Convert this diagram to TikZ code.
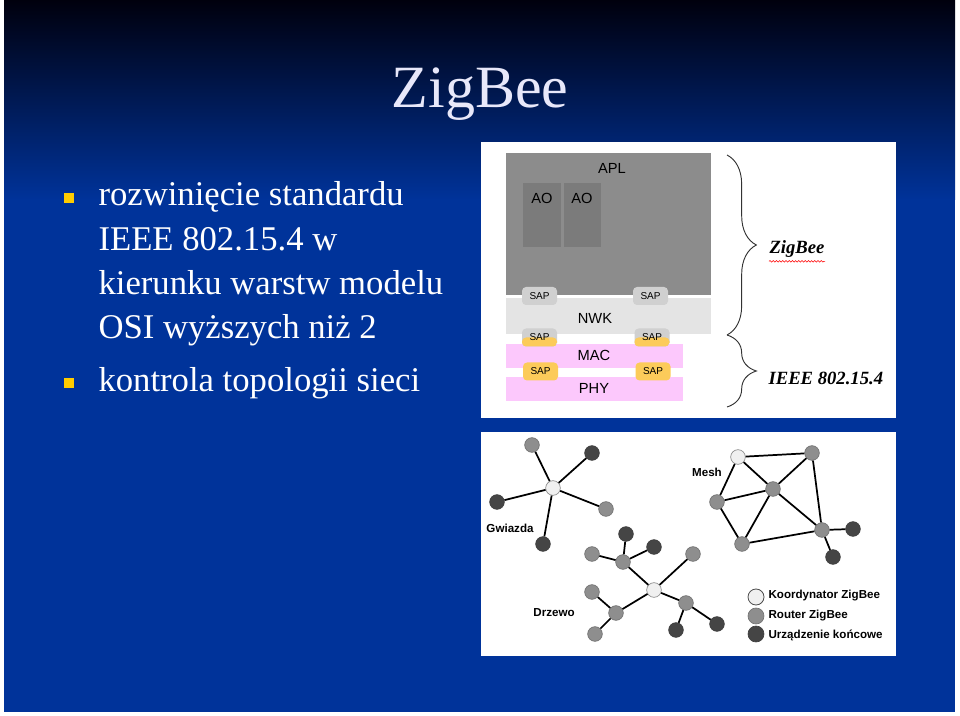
\documentclass[tikz,border=0pt]{standalone}
\usepackage{fontspec}
\setmainfont{Liberation Serif}
\setsansfont{Liberation Sans}
\usepackage{xcolor}
\usetikzlibrary{positioning, decorations.pathreplacing, decorations.pathmorphing}

\definecolor{slidetop}{HTML}{00000E}
\definecolor{slideblue}{HTML}{00339A}
\definecolor{titlecol}{HTML}{E8E8FA}
\definecolor{bulletcol}{HTML}{FFCC00}
\definecolor{aplgray}{HTML}{8C8C8C}
\definecolor{aogray}{HTML}{7B7B7B}
\definecolor{nwkgray}{HTML}{E4E4E4}
\definecolor{macpink}{HTML}{FCC8FC}
\definecolor{sapgray}{HTML}{D0D0D0}
\definecolor{sapyellow}{HTML}{FCCB5A}
\definecolor{coordfill}{HTML}{F0F0F0}
\definecolor{routerfill}{HTML}{8E8E8E}
\definecolor{endfill}{HTML}{454545}

\begin{document}
\begin{tikzpicture}[
            x=0.75pt, y=-0.75pt, line width=0.8pt,
            % ---- styles ----
            bullet/.style = {rectangle, fill=bulletcol, minimum size=7.5pt, inner sep=0pt},
            txtline/.style = {text=white, font=\fontsize{26}{33}\selectfont, anchor=base west, inner sep=0pt},
            stacklayer/.style = {rectangle, inner sep=0pt, anchor=north west},
            lbl/.style = {font=\sffamily\fontsize{11}{12}\selectfont, inner sep=0pt},
            sap/.style = {rectangle, rounded corners=3pt, minimum width=26.25pt, minimum height=13.5pt,
                          inner sep=0pt, font=\sffamily\fontsize{7.5}{8}\selectfont},
            sapmix/.style = {sap, fill=sapgray, path picture={
                          \fill[sapyellow] (path picture bounding box.west) rectangle (path picture bounding box.south east);}},
            zbrace/.style = {decorate, decoration={brace, amplitude=22pt}, draw=black!80, line width=0.7pt},
            stacktag/.style = {font=\bfseries\itshape\fontsize{14}{16}\selectfont, inner sep=0pt},
            coordnode/.style = {circle, draw=black!45, fill=coordfill, minimum size=11pt, inner sep=0pt, line width=0.5pt},
            router/.style = {coordnode, fill=routerfill, draw=black!55},
            enddev/.style = {coordnode, fill=endfill, draw=black!75},
            link/.style = {line width=1.3pt},
            tag/.style = {font=\sffamily\bfseries\fontsize{8.7}{10}\selectfont, inner sep=0pt}
        ]
        \useasboundingbox (0,0) rectangle (960,716);

        % ===================== tlo slajdu =====================
        \fill[white] (0,0) rectangle (960,716);
        \shade[top color=slidetop, bottom color=slideblue] (4,1) rectangle (955,200);
        \fill[slideblue] (4,199) rectangle (955,712);

        % tytul
        \node[text=titlecol, font=\fontsize{45}{48}\selectfont, anchor=base, inner sep=0pt] (title) at (480,108) {ZigBee};

        % ===================== punkty =====================
        \node[bullet] (b1) at (69,198) {};
        \node[txtline] (l1) at (98,206) {rozwinięcie standardu};
        \node[txtline] (l2) at (98,251) {IEEE 802.15.4 w};
        \node[txtline] (l3) at (98,295) {kierunku warstw modelu};
        \node[txtline] (l4) at (98,339) {OSI wyższych niż 2};
        \node[bullet] (b2) at (69,383) {};
        \node[txtline] (l5) at (98,392) {kontrola topologii sieci};

        % ===================== stos protokolow =====================
        \fill[white] (481,142) rectangle (896,418);

        \node[stacklayer, fill=aplgray, minimum width=153.75pt, minimum height=106.5pt] (apl) at (505,152) {};
        \node[lbl] (apltxt) at (612,168) {APL};
        \node[stacklayer, fill=aogray, minimum width=28.5pt, minimum height=48pt] (ao1) at (522,182) {};
        \node[stacklayer, fill=aogray, minimum width=28pt, minimum height=48pt] (ao2) at (563,182) {};
        \node[lbl] (ao1txt) at (542,198) {AO};
        \node[lbl] (ao2txt) at (582,198) {AO};

        \node[stacklayer, fill=nwkgray, minimum width=153.75pt, minimum height=27pt] (nwk) at (505,297) {};
        \node[lbl] (nwktxt) at (595,318) {NWK};
        \node[stacklayer, fill=macpink, minimum width=132.75pt, minimum height=18pt] (mac) at (505,343) {};
        \node[lbl] (mactxt) at (594,355) {MAC};
        \node[stacklayer, fill=macpink, minimum width=132.75pt, minimum height=18pt] (phy) at (505,376) {};
        \node[lbl] (phytxt) at (594,388) {PHY};

        % SAP
        \node[sap, fill=sapgray] (sap1) at (539.5,296) {SAP};
        \node[sap, fill=sapgray] (sap2) at (650.5,296) {SAP};
        \node[sapmix] (sap3) at (539.5,337.5) {SAP};
        \node[sapmix] (sap4) at (652,337.5) {SAP};
        \node[sap, fill=sapyellow] (sap5) at (540.5,371.5) {SAP};
        \node[sap, fill=sapyellow] (sap6) at (653,371.5) {SAP};

        % klamry
        \coordinate (brtop) at (727,155);
        \coordinate (brmid) at (727,335);
        \coordinate (brbot) at (727,407);
        \draw[zbrace] (brtop) -- (brmid);
        \draw[zbrace] (brmid) -- (brbot);
        \node[stacktag, anchor=west] (zbtag) at (769,249) {ZigBee};
        \draw[red, line width=0.4pt, decorate, decoration={snake, amplitude=0.6pt, segment length=2.4pt}]
            ([yshift=-2.5pt]zbtag.south west) -- ([yshift=-2.5pt]zbtag.south east);
        \node[stacktag, anchor=west] (ieeetag) at (768,378) {IEEE 802.15.4};

        % ===================== topologie =====================
        \fill[white] (481,432) rectangle (896,656);

        % ---- gwiazda ----
        \node[coordnode] (s0) at (553,488) {};
        \node[router] (s1) at (532,445) {};
        \node[enddev] (s2) at (592,453) {};
        \node[enddev] (s3) at (497,502) {};
        \node[router] (s4) at (606,509) {};
        \node[enddev] (s5) at (543,544) {};
        \node[tag] (gwiazda) at (510,528) {Gwiazda};
        \draw[link] (s0) -- (s1) (s0) -- (s2) (s0) -- (s3) (s0) -- (s4) (s0) -- (s5);

        % ---- drzewo ----
        \node[coordnode] (t0) at (654,590) {};
        \node[router] (ta) at (623,562) {};
        \node[router] (ta1) at (592,554) {};
        \node[enddev] (ta2) at (626,534) {};
        \node[enddev] (ta3) at (654,547) {};
        \node[router] (tb) at (693,554) {};
        \node[router] (tc) at (616,613) {};
        \node[router] (tc1) at (592,592) {};
        \node[router] (tc2) at (595,634) {};
        \node[router] (td) at (686,603) {};
        \node[enddev] (td1) at (676,630) {};
        \node[enddev] (td2) at (717,624) {};
        \node[tag] (drzewo) at (554,613) {Drzewo};
        \draw[link] (t0) -- (ta) (ta) -- (ta1) (ta) -- (ta2) (ta) -- (ta3)
                    (t0) -- (tb)
                    (t0) -- (tc) (tc) -- (tc1) (tc) -- (tc2)
                    (t0) -- (td) (td) -- (td1) (td) -- (td2);

        % ---- mesh ----
        \node[coordnode] (m0) at (738,457) {};
        \node[router] (m1) at (812,453) {};
        \node[router] (m2) at (773,489) {};
        \node[router] (m3) at (717,502) {};
        \node[router] (m4) at (742,544) {};
        \node[router] (m5) at (822,530) {};
        \node[enddev] (m6) at (853,529) {};
        \node[enddev] (m7) at (833,557) {};
        \node[tag] (mesh) at (707,472) {Mesh};
        \draw[link] (m0) -- (m1) (m0) -- (m2) (m0) -- (m3)
                    (m1) -- (m2) (m1) -- (m5)
                    (m2) -- (m3) (m2) -- (m4) (m2) -- (m5)
                    (m3) -- (m4) (m4) -- (m5)
                    (m5) -- (m6) (m5) -- (m7);

        % ---- legenda ----
        \node[coordnode, minimum size=12pt, draw=black!70, line width=0.6pt] (leg1) at (756,597) {};
        \node[router, minimum size=12pt] (leg2) at (756,616) {};
        \node[enddev, minimum size=12pt] (leg3) at (756,634) {};
        \node[tag, anchor=west] (leg1txt) at (768,596) {Koordynator ZigBee};
        \node[tag, anchor=west] (leg2txt) at (768,616) {Router ZigBee};
        \node[tag, anchor=west] (leg3txt) at (768,635) {Urządzenie końcowe};

        \end{tikzpicture}
\end{document}
